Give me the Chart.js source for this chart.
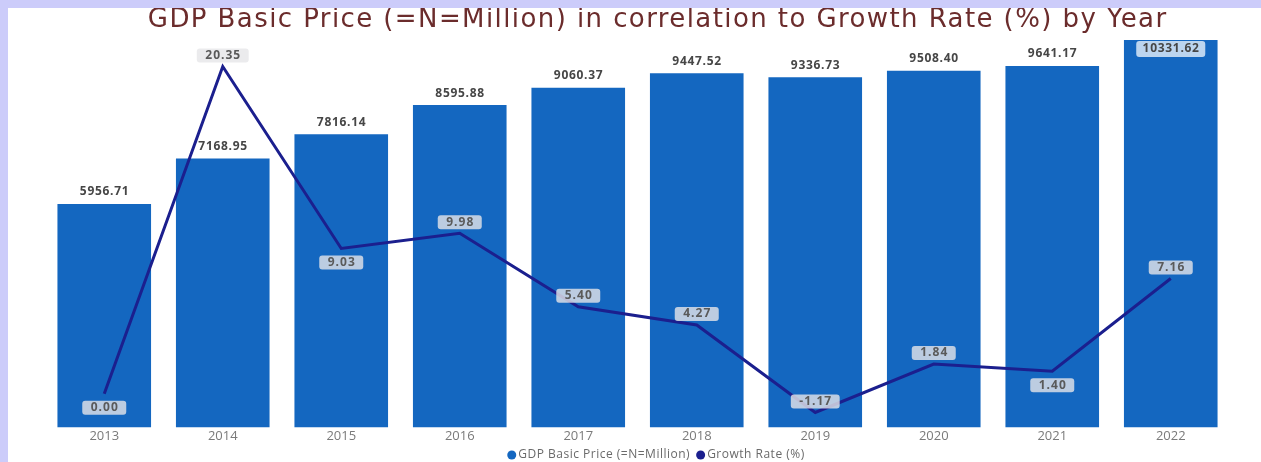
<!DOCTYPE html>
<html>
<head>
<meta charset="utf-8">
<title>GDP Basic Price vs Growth Rate</title>
<script src="https://cdn.jsdelivr.net/npm/chart.js@4.4.1/dist/chart.umd.min.js"></script>
<style>
  html, body { margin: 0; padding: 0; }
  body { background: #ccccfa; width: 1261px; height: 462px; overflow: hidden; position: relative; }
  .panel { position: absolute; left: 8px; top: 8px; width: 1253px; height: 454px; background: #fff; }
  canvas { display: block; }
</style>
</head>
<body>
<div class="panel">
  <canvas id="gdp-chart" width="1253" height="454"></canvas>
</div>
<script>
const years = ['2013', '2014', '2015', '2016', '2017', '2018', '2019', '2020', '2021', '2022'];
const gdpValues = [5956.71, 7168.95, 7816.14, 8595.88, 9060.37, 9447.52, 9336.73, 9508.40, 9641.17, 10331.62];
const growthRates = [0.00, 20.35, 9.03, 9.98, 5.40, 4.27, -1.17, 1.84, 1.40, 7.16];
// which side of the point each growth label sits on
const growthLabelSide = ['below', 'above', 'below', 'above', 'above', 'above', 'above', 'above', 'below', 'above'];

const chartTitle = 'GDP Basic Price (=N=Million) in correlation to Growth Rate (%) by Year';
const BAR_COLOR = '#1467c0';
const LINE_COLOR = '#1b1f8e';

function roundBox(ctx, cx, cy, w, h, r, fill) {
  ctx.beginPath();
  ctx.roundRect(cx - w / 2, cy - h / 2, w, h, r);
  ctx.fillStyle = fill;
  ctx.fill();
}

// value labels for bars and line points
const valueLabels = {
  id: 'valueLabels',
  afterDatasetsDraw(chart) {
    const ctx = chart.ctx;
    const area = chart.chartArea;
    ctx.save();
    ctx.font = 'bold 12px "Open Sans"';
    ctx.letterSpacing = '0.7px';
    ctx.textAlign = 'center';
    ctx.textBaseline = 'middle';

    chart.getDatasetMeta(1).data.forEach((bar, i) => {
      const text = gdpValues[i].toFixed(2);
      let y = bar.y - 12;
      if (y - 8 < area.top) {
        // no room above the bar: put the label inside on a box
        y = bar.y + 9;
        const w = ctx.measureText(text).width + 12;
        roundBox(ctx, bar.x, y, w, 16, 3, '#bcd5ef');
      }
      ctx.fillStyle = '#464646';
      ctx.fillText(text, bar.x + 0.35, y);
    });

    ctx.letterSpacing = '1px';
    chart.getDatasetMeta(0).data.forEach((pt, i) => {
      const text = growthRates[i].toFixed(2);
      const y = growthLabelSide[i] === 'above' ? pt.y - 11 : pt.y + 14;
      const w = ctx.measureText(text).width + 16;
      roundBox(ctx, pt.x, y, w, 14, 3, 'rgba(230,230,232,0.8)');
      ctx.fillStyle = '#5a5a5a';
      ctx.fillText(text, pt.x + 0.5, y);
    });
    ctx.restore();
  }
};

// title on top and legend at the bottom
const titleAndLegend = {
  id: 'titleAndLegend',
  afterDraw(chart) {
    const ctx = chart.ctx;
    ctx.save();
    ctx.textBaseline = 'middle';

    // spread the title over its full width
    ctx.font = '26px "DejaVu Sans"';
    ctx.letterSpacing = '0px';
    const titleWidth = 1020;
    const spread = (titleWidth - ctx.measureText(chartTitle).width) / chartTitle.length;
    ctx.letterSpacing = spread.toFixed(2) + 'px';
    ctx.textAlign = 'center';
    ctx.fillStyle = '#6b2c2c';
    ctx.fillText(chartTitle, 649 + spread / 2, 12);

    const items = [
      { text: 'GDP Basic Price (=N=Million)', color: BAR_COLOR },
      { text: 'Growth Rate (%)', color: LINE_COLOR }
    ];
    ctx.font = '12px "Open Sans"';
    ctx.letterSpacing = '0.5px';
    ctx.textAlign = 'left';
    const dot = 9, gap = 2, spacing = 6;
    const total = items.reduce((s, it) => s + dot + gap + ctx.measureText(it.text).width, 0) + spacing;
    let x = 648 - total / 2;
    const y = 447;
    items.forEach(it => {
      ctx.beginPath();
      ctx.arc(x + dot / 2, y, dot / 2, 0, Math.PI * 2);
      ctx.fillStyle = it.color;
      ctx.fill();
      x += dot + gap;
      ctx.fillStyle = '#6a6a6a';
      ctx.fillText(it.text, x, y);
      x += ctx.measureText(it.text).width + spacing;
    });
    ctx.restore();
  }
};

const ctx = document.getElementById('gdp-chart').getContext('2d');
new Chart(ctx, {
  data: {
    labels: years,
    datasets: [
      {
        type: 'line',
        label: 'Growth Rate (%)',
        data: growthRates,
        yAxisID: 'y2',
        borderColor: LINE_COLOR,
        borderWidth: 3,
        pointRadius: 0,
        tension: 0,
        order: 0
      },
      {
        type: 'bar',
        label: 'GDP Basic Price (=N=Million)',
        data: gdpValues,
        yAxisID: 'y',
        backgroundColor: BAR_COLOR,
        borderWidth: 0,
        categoryPercentage: 0.79,
        barPercentage: 1,
        order: 1
      }
    ]
  },
  options: {
    responsive: false,
    animation: false,
    layout: { padding: { left: 37, right: 31, top: 32, bottom: 17 } },
    plugins: {
      legend: { display: false },
      title: { display: false },
      tooltip: { enabled: false }
    },
    scales: {
      x: {
        grid: { display: false, drawTicks: false },
        border: { display: false },
        ticks: {
          padding: 1,
          color: '#7a7a7a',
          font: { family: '"Open Sans"', size: 13 }
        }
      },
      y: {
        display: false,
        min: 0,
        max: Math.max(...gdpValues)
      },
      y2: {
        display: false,
        min: -2.1,
        max: 22
      }
    }
  },
  plugins: [valueLabels, titleAndLegend]
});
</script>
</body>
</html>
